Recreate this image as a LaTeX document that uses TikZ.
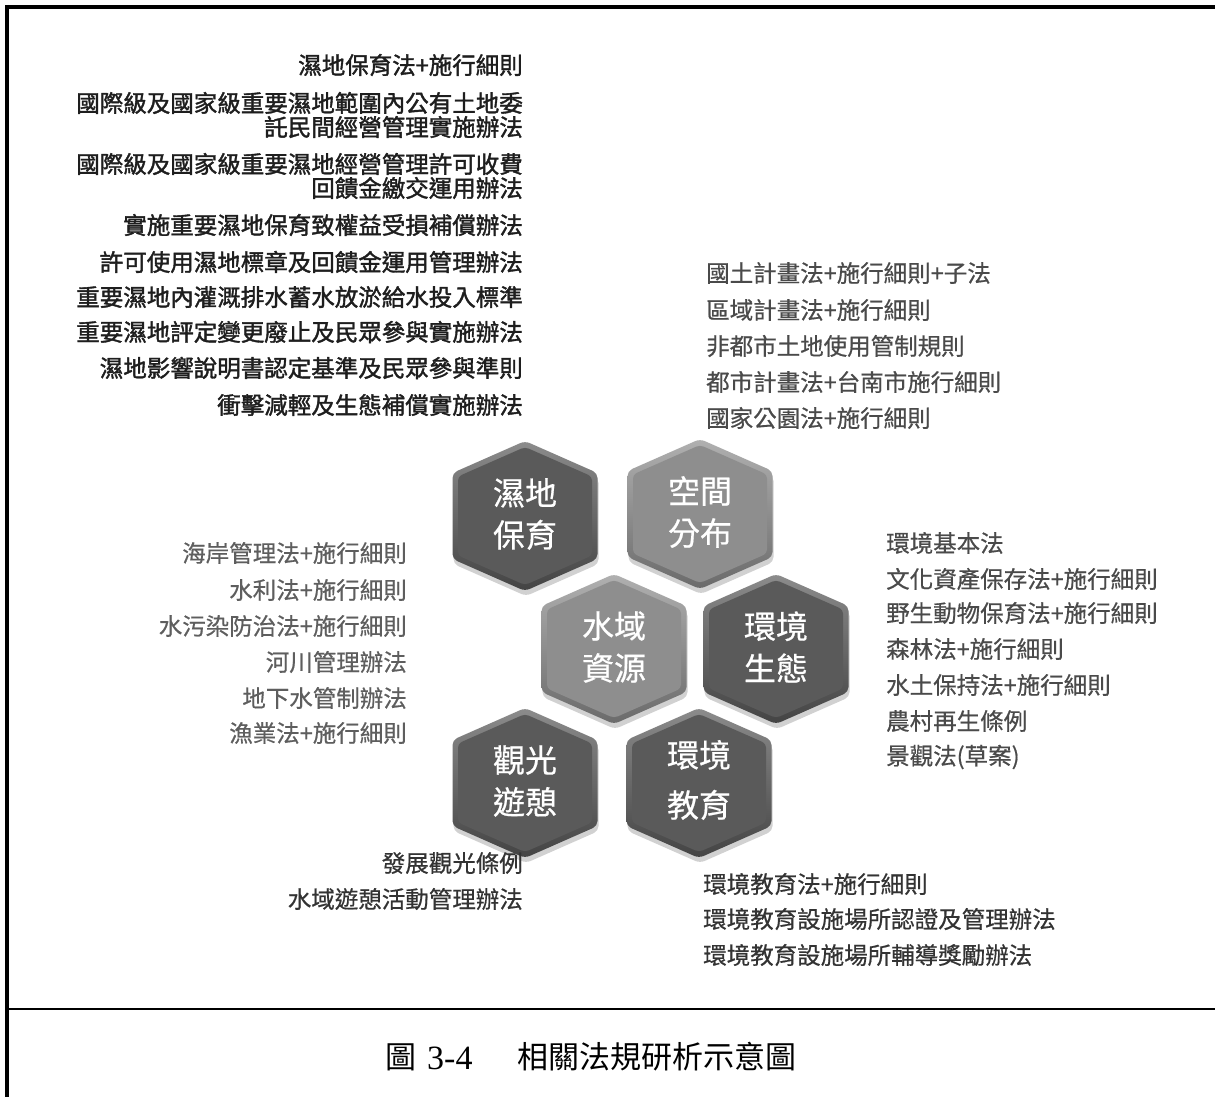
\documentclass[tikz,border=0pt]{standalone}
\usepackage{fontspec}
\newfontfamily\cjk{Noto Sans CJK TC}
\newfontfamily\cjkm[FakeBold=0.6]{Noto Sans CJK TC}
\newfontfamily\cjkb[FakeBold=1.6]{Noto Sans CJK TC}
\newfontfamily\capserif{Liberation Serif}
\usetikzlibrary{calc}
\definecolor{hexdark}{HTML}{5A5A5A}
\definecolor{hexlight}{HTML}{8E8E8E}
\definecolor{txtdark}{HTML}{1E1E1E}
\definecolor{txtgray}{HTML}{4A4A4A}
\definecolor{txtmid}{HTML}{5E5E5E}
\definecolor{txtbot}{HTML}{333333}
\tikzset{
  lawR/.style={anchor=east, inner sep=0pt, font=\cjkm\fontsize{23.5}{28}\selectfont},
  lawL/.style={anchor=west, inner sep=0pt, font=\cjkm\fontsize{23.5}{28}\selectfont},
  strongtxt/.style={text=txtdark, font=\cjkb\fontsize{23.5}{28}\selectfont},
  graytxt/.style={text=txtgray},
  midtxt/.style={text=txtmid},
  bottxt/.style={text=txtbot},
  hexlabel/.style={inner sep=0pt, align=center, text=white, font=\cjkm\fontsize{32}{42}\selectfont},
  frameline/.style={line width=4pt, black},
  capfont/.style={inner sep=0pt, font=\cjk\fontsize{31}{36}\selectfont},
}
\newcommand\hexpath{(0,-75) -- (72.5,-43) -- (72.5,43) -- (0,75) -- (-72.5,43) -- (-72.5,-43) -- cycle}
\newcommand\hexinner{(0,-69) -- (67,-39.5) -- (67,39.5) -- (0,69) -- (-67,39.5) -- (-67,-39.5) -- cycle}
\newcommand\hexcell[5]{%
  \begin{scope}[shift={(#1,#2)}]
    \fill[black, opacity=0.18, rounded corners=5pt, shift={(1,5)}] \hexpath;
    \shade[top color=#3!70!white, bottom color=#3!75!black, rounded corners=5pt] \hexpath;
    \fill[#3, rounded corners=4pt] \hexinner;
    \node[hexlabel] (#4) at (0,-2) {#5};
  \end{scope}}
\begin{document}
\begin{tikzpicture}[x=1pt, y=-1pt]
\useasboundingbox (0,0) rectangle (1215,1097);
\fill[white] (0,0) rectangle (1215,1097);
% frame
\draw[frameline] (7,5) -- (7,1097);
\draw[frameline] (5,7) -- (1215,7);
\draw[line width=2.5pt] (7,1009) -- (1215,1009);

% hexagons
\hexcell{525}{516}{hexdark}{wet}{濕地\\保育}
\hexcell{700}{514}{hexlight}{space}{空間\\分布}
\hexcell{614}{649}{hexlight}{water}{水域\\資源}
\hexcell{776}{649}{hexdark}{eco}{環境\\生態}
\hexcell{525}{783}{hexdark}{tour}{觀光\\遊憩}
\begin{scope}[shift={(699,783)}]
  \fill[black, opacity=0.18, rounded corners=5pt, shift={(1,5)}] \hexpath;
  \shade[top color=hexdark!70!white, bottom color=hexdark!75!black, rounded corners=5pt] \hexpath;
  \fill[hexdark, rounded corners=4pt] \hexinner;
  \node[hexlabel, font=\cjkm\fontsize{32}{50}\selectfont] (edu) at (0,-3) {環境\\教育};
\end{scope}

% top-left block: wetland conservation
\node[lawR, strongtxt] (tl1) at (523,65) {濕地保育法+施行細則};
\node[lawR, strongtxt] (tl2) at (523,103) {國際級及國家級重要濕地範圍內公有土地委};
\node[lawR, strongtxt] (tl3) at (523,127) {託民間經營管理實施辦法};
\node[lawR, strongtxt] (tl4) at (523,164) {國際級及國家級重要濕地經營管理許可收費};
\node[lawR, strongtxt] (tl5) at (523,188) {回饋金繳交運用辦法};
\node[lawR, strongtxt] (tl6) at (523,225) {實施重要濕地保育致權益受損補償辦法};
\node[lawR, strongtxt] (tl7) at (523,262) {許可使用濕地標章及回饋金運用管理辦法};
\node[lawR, strongtxt] (tl8) at (523,297) {重要濕地內灌溉排水蓄水放淤給水投入標準};
\node[lawR, strongtxt] (tl9) at (523,332) {重要濕地評定變更廢止及民眾參與實施辦法};
\node[lawR, strongtxt] (tl10) at (523,368) {濕地影響說明書認定基準及民眾參與準則};
\node[lawR, strongtxt] (tl11) at (523,405) {衝擊減輕及生態補償實施辦法};

% top-right block: spatial distribution
\node[lawL, graytxt] (tr1) at (706,273) {國土計畫法+施行細則+子法};
\node[lawL, graytxt] (tr2) at (706,310) {區域計畫法+施行細則};
\node[lawL, graytxt] (tr3) at (706,346) {非都市土地使用管制規則};
\node[lawL, graytxt] (tr4) at (706,382) {都市計畫法+台南市施行細則};
\node[lawL, graytxt] (tr5) at (706,418) {國家公園法+施行細則};

% left-middle block: water resources
\node[lawR, midtxt] (lm1) at (407,553) {海岸管理法+施行細則};
\node[lawR, midtxt] (lm2) at (407,590) {水利法+施行細則};
\node[lawR, midtxt] (lm3) at (407,626) {水污染防治法+施行細則};
\node[lawR, midtxt] (lm4) at (407,662) {河川管理辦法};
\node[lawR, midtxt] (lm5) at (407,698) {地下水管制辦法};
\node[lawR, midtxt] (lm6) at (407,733) {漁業法+施行細則};

% right-middle block: ecology
\node[lawL, graytxt] (rm1) at (886,543) {環境基本法};
\node[lawL, graytxt] (rm2) at (886,579) {文化資產保存法+施行細則};
\node[lawL, graytxt] (rm3) at (886,613) {野生動物保育法+施行細則};
\node[lawL, graytxt] (rm4) at (886,649) {森林法+施行細則};
\node[lawL, graytxt] (rm5) at (886,685) {水土保持法+施行細則};
\node[lawL, graytxt] (rm6) at (886,721) {農村再生條例};
\node[lawL, graytxt] (rm7) at (886,757) {景觀法(草案)};

% bottom-left block: tourism
\node[lawR, bottxt] (bl1) at (523,863) {發展觀光條例};
\node[lawR, bottxt] (bl2) at (523,899) {水域遊憩活動管理辦法};

% bottom-right block: education
\node[lawL, bottxt] (br1) at (703,884) {環境教育法+施行細則};
\node[lawL, bottxt] (br2) at (703,919) {環境教育設施場所認證及管理辦法};
\node[lawL, bottxt] (br3) at (703,955) {環境教育設施場所輔導獎勵辦法};

% caption
\node[capfont, anchor=west] (cap1) at (385,1057) {圖};
\node[capfont, anchor=west, font=\capserif\fontsize{34}{36}\selectfont] (cap2) at (427,1058) {3-4};
\node[capfont, anchor=west] (cap3) at (517,1057) {相關法規研析示意圖};
\end{tikzpicture}
\end{document}
